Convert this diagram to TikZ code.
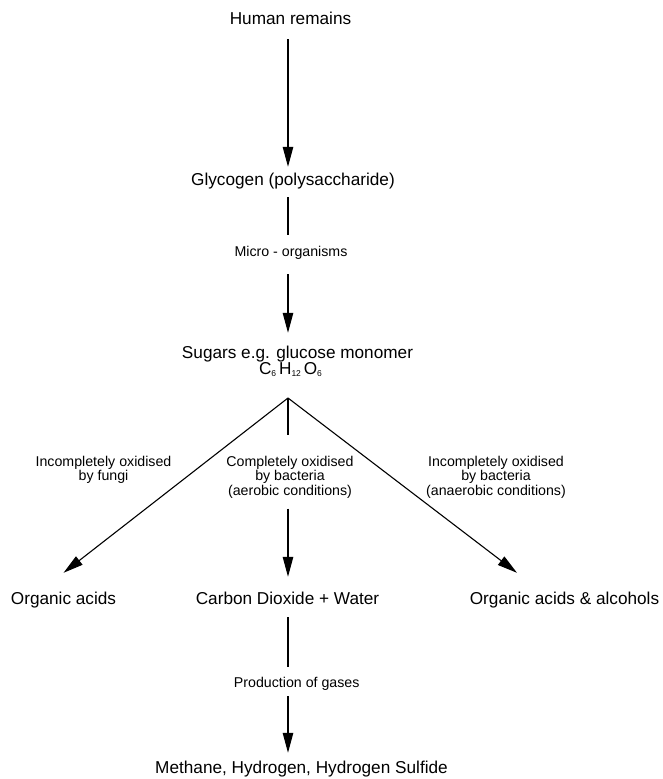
\documentclass[tikz,border=0pt]{standalone}
\usepackage{fontspec}
\setmainfont{Liberation Sans}
\usetikzlibrary{arrows.meta}
% chemical subscript, set small and dropped below the baseline
\newcommand\chemsub[1]{\raisebox{-2.2pt}{\fontsize{8.5}{8.5}\selectfont #1}}
\begin{document}
\begin{tikzpicture}[x=1pt,y=-1pt,
  big/.style={font=\fontsize{17.2}{17}\selectfont, inner sep=0pt, anchor=base,
              text height=12.4pt, text depth=3.6pt},
  small/.style={font=\fontsize{14.2}{14.6}\selectfont, inner sep=0pt, align=center},
  flow/.style={line width=1.1pt, -{Triangle[length=20pt,width=10.5pt]}},
  link/.style={line width=1.1pt}]
\useasboundingbox (0,0) rectangle (662,779);
\fill[white] (0,0) rectangle (662,779);

% main chain
\node[big] (hr)   at (290.5,24)  {Human remains};
\node[big] (gly)  at (293,185)   {Glycogen (polysaccharide)};
\node[small, anchor=base, text height=10.3pt, text depth=3pt] (micro) at (291,256) {Micro - organisms};
\node[big] (sug)  at (297.5,358) {Sugars e.g. glucose monomer};
\node[big] (form) at (290.5,374) {C\chemsub{6}\,H\chemsub{12}\,O\chemsub{6}};
\coordinate (fork) at (288,398);

% branch labels
\node[small, anchor=north] (lfungi) at (103.5,455.7) {Incompletely oxidised\\by fungi};
\node[small, anchor=north] (mid)    at (290,455.7)   {Completely oxidised\\by bacteria\\(aerobic conditions)};
\node[small, anchor=north] (rbact)  at (496,455.7)   {Incompletely oxidised\\by bacteria\\(anaerobic conditions)};

% products
\node[big] (orgl) at (63.5,604)  {Organic acids};
\node[big] (co2)  at (287.5,604) {Carbon Dioxide + Water};
\node[big] (orgr) at (564.5,604) {Organic acids \& alcohols};
\node[small, anchor=base, text height=10.3pt, text depth=3pt] (prod) at (296.7,687) {Production of gases};
\node[big] (meth) at (301.5,773) {Methane, Hydrogen, Hydrogen Sulfide};

% connectors
\draw[flow, shorten <=11.4pt, shorten >=5.6pt] (hr.south -| fork) -- (gly.north -| fork);
\draw[link, shorten <=8.4pt, shorten >=10.7pt] (gly.south -| fork) -- (micro.north -| fork);
\draw[flow, shorten <=15pt, shorten >=12.6pt] (micro.south -| fork) -- (sug.north -| fork);

\draw[link, shorten >=20.7pt] (fork) -- (mid.north -| fork);
\draw[flow, shorten <=10pt, shorten >=14.6pt] (mid.south -| fork) -- (co2.north -| fork);
\draw[flow] (fork) -- ([yshift=18.6pt]orgl.north);
\draw[flow] (fork) -- ([xshift=-47.5pt,yshift=18.6pt]orgr.north);

\draw[link, shorten <=9.4pt, shorten >=9.7pt] (co2.south -| fork) -- (prod.north -| fork);
\draw[flow, shorten <=6pt, shorten >=7.6pt] (prod.south -| fork) -- (meth.north -| fork);
\end{tikzpicture}
\end{document}
